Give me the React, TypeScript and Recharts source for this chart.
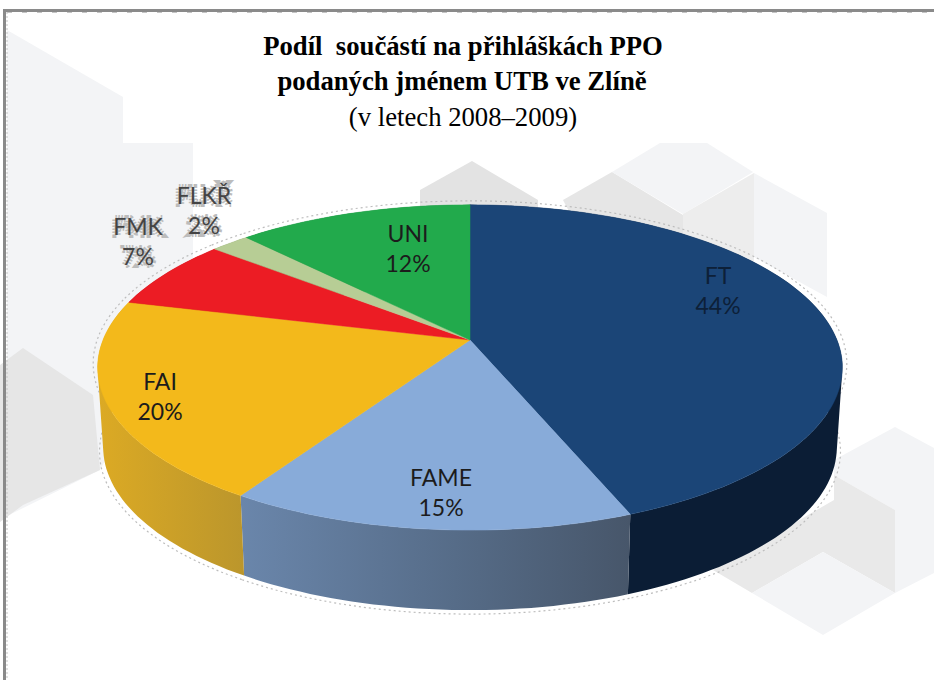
import { Pie, PieChart, Cell } from "recharts";

const NAMES = ["FT", "FAME", "FAI", "FMK", "FLKŘ", "UNI"];
const SHARES = [44, 15, 20, 7, 2, 12];
const TOP_COLORS = ["#1b4577", "#88abd9", "#f3b91b", "#ec1c24", "#b7cd95", "#22aa4c"];
const SIDE_COLORS = ["#0b1d35", "url(#sideFame)", "url(#sideFai)", "#a31218", "#7f8f68", "#167535"];
const LABEL_X = [718, 441, 160, 138, 204, 408];
const LABEL_Y = [284, 486, 390, 235, 204, 242];
const TITLE_LINES = [
  "Podíl  součástí na přihláškách PPO",
  "podaných jménem UTB ve Zlíně",
];
const SUBTITLE = "(v letech 2008–2009)";

const pieData = NAMES.map((name, i) => ({ name, value: SHARES[i] }));

// backdrop hexagons: [points, colour]
const HEXES: [string, string][] = [
  ["7,30 123,97 123,143 193,143 193,300 100,470 7,516", "#f3f4f6"],
  ["0,365 23,348 93,395 100,470 23,505 0,522", "#e6e6e6"],
  ["420,190 472,161 538,200 538,240 420,240", "#e3e3e3"],
  ["563,200 612,172 683,215 683,270 600,270", "#e6e6e6"],
  ["612,172 660,143 707,143 753,172 683,214", "#f3f4f6"],
  ["683,214 754,173 754,290 683,270", "#ededed"],
  ["754,173 827,213 827,297 754,257", "#f3f4f6"],
  ["895,427 934,448 934,573 895,593 895,510 834,475 834,460", "#f3f4f6"],
  ["834,475 895,510 895,593 823,552 752,593 713,570 834,500", "#e9e9e9"],
  ["823,552 895,593 823,635 752,593", "#f3f4f6"],
];

const APEX_X = 470;
const APEX_Y = 340;
const RX = 367;
const RY = 158;
const PERSPECTIVE = 0.169;
const DEPTH = 80;

// tilted disc: maps a polar angle on the pie to the screen
const rim = (deg: number, scale = 1, drop = 0) => {
  const a = (deg * Math.PI) / 180;
  const u = Math.cos(a);
  const v = -Math.sin(a);
  const w = 1 - PERSPECTIVE * v;
  return [APEX_X + (scale * RX * u) / w, APEX_Y + drop + (RY * v) / w];
};

const arcPoints = (from: number, to: number, scale = 1, drop = 0) => {
  const steps = Math.max(2, Math.ceil(Math.abs(to - from) / 1.5));
  const pts: number[][] = [];
  for (let i = 0; i <= steps; i++) {
    pts.push(rim(from + ((to - from) * i) / steps, scale, drop));
  }
  return pts;
};

const toLine = (pts: number[][]) =>
  "M" + pts.map((p) => p[0].toFixed(1) + "," + p[1].toFixed(1)).join("L");

const TopFace = (props: any) => {
  const pts = [[APEX_X, APEX_Y], ...arcPoints(props.startAngle, props.endAngle)];
  return <path d={toLine(pts) + "Z"} fill={props.fill} stroke={props.fill} strokeWidth={0.5} />;
};

// one quad per step, all wound the same way, so the wall is a true sweep
const wallPath = (upper: number[][], lower: number[][]) => {
  let d = "";
  for (let i = 0; i < upper.length - 1; i++) {
    const quad = [upper[i], upper[i + 1], lower[i + 1], lower[i]];
    let area = 0;
    quad.forEach((p, j) => {
      const q = quad[(j + 1) % 4];
      area += p[0] * q[1] - q[0] * p[1];
    });
    d += toLine(area < 0 ? quad.reverse() : quad) + "Z";
  }
  return d;
};

const SideWall = (props: any) => {
  const upper = arcPoints(props.startAngle, props.endAngle);
  const lower = arcPoints(props.startAngle, props.endAngle, 0.985, DEPTH);
  const halo = { fill: "none", stroke: "#bdbdbd", strokeWidth: 1.2, strokeDasharray: "2 3" };
  return (
    <g>
      <path d={toLine(arcPoints(props.startAngle, props.endAngle, 1.012, -4))} {...halo} />
      <path d={toLine(arcPoints(props.startAngle, props.endAngle, 0.995, DEPTH + 4))} {...halo} />
      <path d={wallPath(upper, lower)} fill={props.fill} />
    </g>
  );
};

const renderLabel = (props: any) => {
  const i = props.index;
  const outside = i === 3 || i === 4;
  return (
    <text
      key={i}
      x={LABEL_X[i]}
      y={LABEL_Y[i]}
      textAnchor="middle"
      fontFamily="Lato, sans-serif"
      fontSize={23}
      fill={i === 0 ? "#0d2038" : outside ? "#444" : "#1c1c1c"}
      stroke={outside ? "#bcbcbc" : "none"}
      strokeWidth={outside ? 6 : 0}
      strokeDasharray={outside ? "1.5 1.5" : undefined}
      paintOrder="stroke"
    >
      <tspan x={LABEL_X[i]}>{NAMES[i]}</tspan>
      <tspan x={LABEL_X[i]} dy={30}>
        {SHARES[i]}%
      </tspan>
    </text>
  );
};

export default function App() {
  return (
    <div style={{ position: "absolute", left: 0, top: 0, width: 934, height: 680, background: "#fff", overflow: "hidden" }}>
      <svg width={934} height={680} style={{ position: "absolute", left: 0, top: 0 }}>
        {HEXES.map(([points, color], i) => (
          <polygon key={i} points={points} fill={color} />
        ))}
        <rect x={3} y={9} width={931} height={3} fill="#8a8a8a" />
        <rect x={3} y={9} width={3} height={671} fill="#8a8a8a" />
        <line x1={7} y1={12.5} x2={934} y2={12.5} stroke="#c4c4c4" strokeDasharray="5 10" />
        <line x1={7} y1={12} x2={7} y2={680} stroke="#c4c4c4" strokeDasharray="2 2" />
        <g fontFamily="'Liberation Serif', serif" textAnchor="middle" fill="#000">
          <text x={463} y={55} fontSize={26.7} fontWeight={700} xmlSpace="preserve">{TITLE_LINES[0]}</text>
          <text x={462} y={90} fontSize={26.7} fontWeight={700}>{TITLE_LINES[1]}</text>
          <text x={463} y={126} fontSize={26.7}>{SUBTITLE}</text>
        </g>
      </svg>
      <div style={{ position: "absolute", left: 0, top: 0 }}>
        <PieChart width={934} height={680} margin={{ top: 0, right: 0, bottom: 0, left: 0 }}>
          <defs>
            <linearGradient id="sideFame" x1="0" y1="0" x2="1" y2="0">
              <stop offset="0%" stopColor="#6a86ab" />
              <stop offset="55%" stopColor="#566c88" />
              <stop offset="100%" stopColor="#47566a" />
            </linearGradient>
            <linearGradient id="sideFai" x1="0" y1="0" x2="1" y2="0">
              <stop offset="0%" stopColor="#dcaa24" />
              <stop offset="100%" stopColor="#bb962c" />
            </linearGradient>
          </defs>
          <Pie
            data={pieData}
            dataKey="value"
            nameKey="name"
            cx={APEX_X}
            cy={APEX_Y}
            outerRadius={RX}
            startAngle={90}
            endAngle={-270}
            isAnimationActive={false}
            shape={SideWall}
            stroke="none"
          >
            {SIDE_COLORS.map((c, i) => (
              <Cell key={i} fill={c} />
            ))}
          </Pie>
          <Pie
            data={pieData}
            dataKey="value"
            nameKey="name"
            cx={APEX_X}
            cy={APEX_Y}
            outerRadius={RX}
            startAngle={90}
            endAngle={-270}
            isAnimationActive={false}
            shape={TopFace}
            label={renderLabel}
            labelLine={false}
            stroke="none"
          >
            {TOP_COLORS.map((c, i) => (
              <Cell key={i} fill={c} />
            ))}
          </Pie>
        </PieChart>
      </div>
    </div>
  );
}
